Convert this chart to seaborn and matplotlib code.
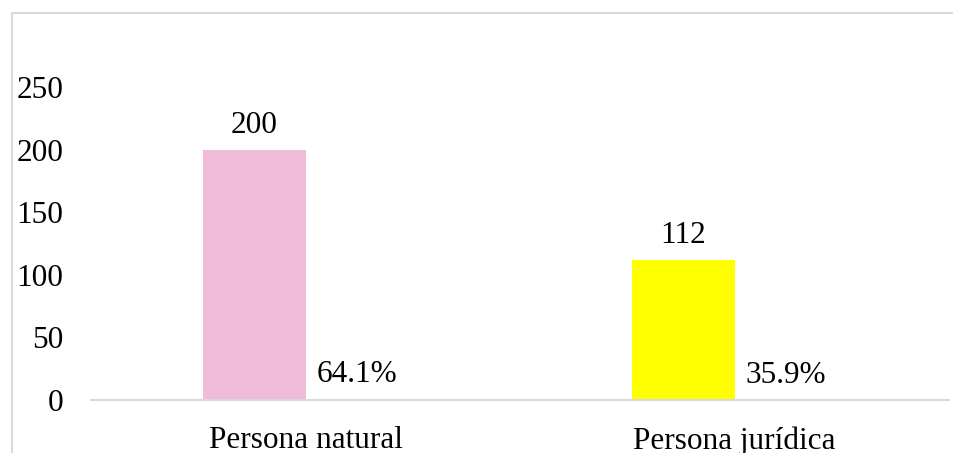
import numpy as np
import pandas as pd
import seaborn as sns
import matplotlib.pyplot as plt
from matplotlib.patches import Rectangle

# data
categorias = ["Persona natural", "Persona jurídica"]
frecuencia = [200, 112]
porcentaje = [0.641, 0.359]
colores_barras = ["#F0BBD9", "#FFFF00"]
yticks = [0, 50, 100, 150, 200, 250]

df = pd.DataFrame({
    "categoria": categorias * 2,
    "serie": ["Frecuencia"] * len(categorias) + ["Porcentaje"] * len(categorias),
    "valor": frecuencia + porcentaje,
})

sns.set_theme(style="white")
plt.rcParams['font.family'] = ['Liberation Serif', 'DejaVu Serif']
plt.rcParams['text.color'] = 'black'

fig = plt.figure(figsize=(9.54, 4.53), dpi=100)
ax = fig.add_axes([0.0954, 0.117, 0.8994, 0.828])

sns.barplot(data=df, x="categoria", y="valor", hue="serie", ax=ax,
            width=0.48, palette=["#F0BBD9", "#FFFFFF"], legend=False,
            saturation=1, errorbar=None)

# colour each count bar, hide the percentage bars (tiny on this scale)
for patch, c in zip(ax.containers[0], colores_barras):
    patch.set_facecolor(c)
    patch.set_edgecolor("none")
for patch in ax.containers[1]:
    patch.set_alpha(0)

ax.bar_label(ax.containers[0], labels=[str(v) for v in frecuencia],
             padding=7, fontsize=22.5, color="black")
ax.bar_label(ax.containers[1], labels=[f"{p*100:.1f}%" for p in porcentaje],
             padding=7, fontsize=22.5, color="black")

ax.set_ylim(0, 300)
ax.set_yticks(yticks)
ax.set_xlim(-0.5, 1.5)
ax.tick_params(axis="y", length=0, pad=20, labelsize=22.5, labelcolor="black")
ax.tick_params(axis="x", length=0, pad=19, labelsize=22.5, labelcolor="black")
ax.set_xlabel("")
ax.set_ylabel("")
for s in ["top", "right", "left"]:
    ax.spines[s].set_visible(False)
ax.spines["bottom"].set_color("#D9D9D9")
ax.spines["bottom"].set_linewidth(1.5)
ax.grid(False)

# light chart-area border along the top and left
fig.patches.append(Rectangle((12 / 954, -0.1), 1.2, 1.1 - 13 / 453,
                             transform=fig.transFigure, fill=False,
                             edgecolor="#D9D9D9", linewidth=1.5))

fig.savefig("out.png", dpi=100)
